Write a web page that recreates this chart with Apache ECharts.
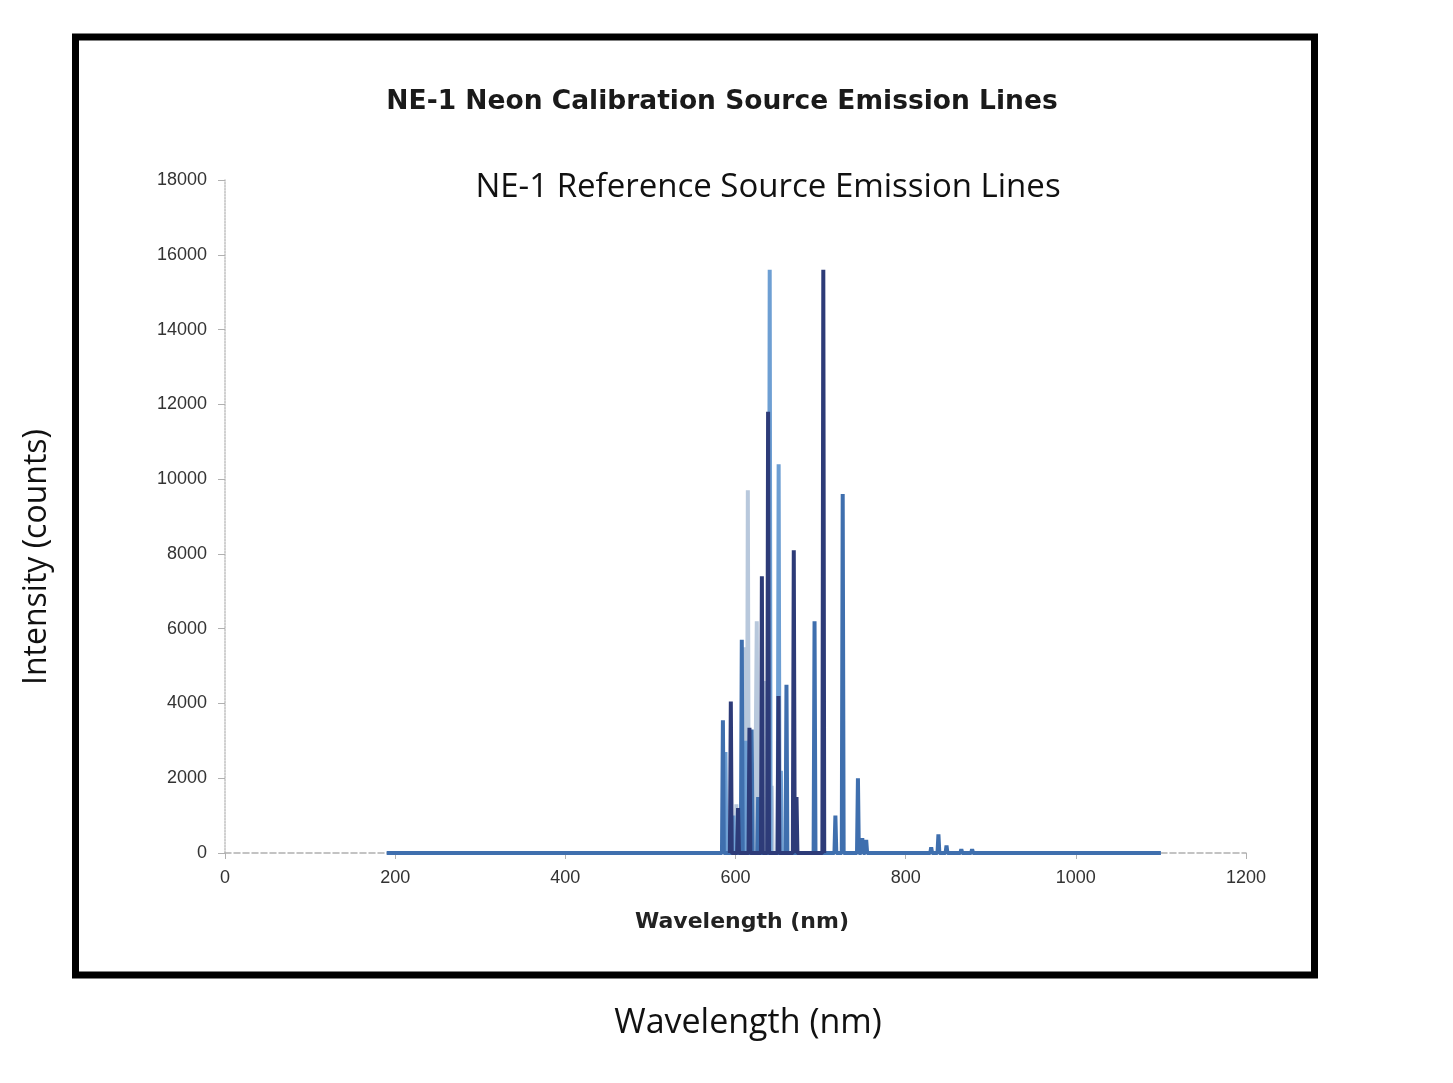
<!DOCTYPE html>
<html>
<head>
<meta charset="utf-8">
<title>NE-1 Neon Calibration Source Emission Lines</title>
<script src="https://cdn.jsdelivr.net/npm/echarts@6/dist/echarts.min.js"></script>
<style>
  html, body { margin: 0; padding: 0; background: #fff; }
  #chart { width: 1453px; height: 1083px; }
</style>
</head>
<body>
<div id="chart"></div>
<script>
// spectrum range (nm) where the trace is drawn
const traceRange = [190, 1100]

// emission lines, [wavelength nm, intensity counts], one list per overlaid trace
const paleLines = [[601, 1300], [609.6, 5500], [614.5, 9700], [621.7, 2400], [625, 6200],
  [633.4, 4600], [642.5, 1800]]
const lightLines = [[588.2, 2700], [597.6, 1000], [612, 3000], [640.2, 15600], [650.7, 10400], [653.3, 2200]]
const mediumLines = [[585.2, 3550], [607.4, 5700], [619, 3300], [626.6, 1500], [659.9, 4500],
  [692.9, 6200], [717.4, 1000], [726, 9600], [743.9, 2000], [749, 400], [753.6, 350], [830, 150],
  [838.5, 500], [848, 200], [865.4, 100], [878.1, 100]]
const navyLines = [[594.5, 4050], [603, 1200], [616.4, 3350], [631, 7400], [638.3, 11800],
  [650.5, 4200], [668.5, 8100], [671.7, 1500], [703.2, 15600]]

const xTicks = { min: 0, max: 1200, step: 200 }
const yTicks = { min: 0, max: 18000, step: 2000 }

// turn a list of lines into a spike trace that sits on a zero baseline
const spikes = (lines, withBaseline) => {
  const pts = []
  if (withBaseline) pts.push([traceRange[0], 0])
  lines.slice().sort((a, b) => a[0] - b[0]).forEach(([w, h]) => {
    pts.push([w - 1.1, 0], [w, h], [w + 1.1, 0])
  })
  if (withBaseline) pts.push([traceRange[1], 0])
  return pts
}

const chart = echarts.init(document.getElementById('chart'))

const mkSeries = (name, lines, color, withBaseline) => ({
  name,
  type: 'line',
  data: spikes(lines, withBaseline),
  showSymbol: false,
  symbol: 'none',
  lineStyle: { color, width: 4 },
  silent: true,
  animation: false
})

const option = {
  backgroundColor: '#fff',
  animation: false,
  title: [
    {
      text: 'NE-1 Neon Calibration Source Emission Lines',
      left: 717,
      top: 84,
      textAlign: 'center',
      textStyle: { fontFamily: 'DejaVu Sans', fontWeight: 'bold', fontSize: 26.5, color: '#1a1a1a' }
    },
    {
      text: 'NE-1 Reference Source Emission Lines',
      left: 763,
      top: 166,
      textAlign: 'center',
      textStyle: { fontFamily: 'Open Sans', fontWeight: 'normal', fontSize: 33, color: '#111' }
    },
    {
      text: 'Wavelength (nm)',
      left: 743,
      top: 1001,
      textAlign: 'center',
      textStyle: { fontFamily: 'Open Sans', fontWeight: 'normal', fontSize: 34, color: '#111' }
    }
  ],
  graphic: [
    {
      type: 'rect',
      shape: { x: 75.5, y: 37, width: 1239, height: 938 },
      style: { fill: 'none', stroke: '#000', lineWidth: 7 },
      silent: true
    },
    {
      type: 'text',
      x: 37,
      y: 557,
      rotation: Math.PI / 2,
      style: {
        text: 'Intensity (counts)',
        align: 'center',
        verticalAlign: 'middle',
        fontFamily: 'Open Sans',
        fontSize: 32,
        fill: '#111'
      },
      silent: true
    },
    {
      type: 'text',
      x: 742,
      y: 922,
      style: {
        text: 'Wavelength (nm)',
        align: 'center',
        verticalAlign: 'middle',
        fontFamily: 'DejaVu Sans',
        fontWeight: 'bold',
        fontSize: 22,
        fill: '#222'
      },
      silent: true
    }
  ],
  grid: { left: 225, right: 207, top: 180, bottom: 230 },
  xAxis: {
    type: 'value',
    min: xTicks.min,
    max: xTicks.max,
    interval: xTicks.step,
    axisLine: { lineStyle: { color: '#b0b0b0', width: 1.5, type: 'dashed' } },
    axisTick: { show: true, length: 6, lineStyle: { color: '#b0b0b0' } },
    axisLabel: { fontFamily: 'Liberation Sans', fontSize: 18, color: '#333', margin: 16, formatter: v => String(v) },
    splitLine: { show: false }
  },
  yAxis: {
    type: 'value',
    min: yTicks.min,
    max: yTicks.max,
    interval: yTicks.step,
    axisLine: { show: true, lineStyle: { color: '#c0c0c0', width: 1.5, type: 'dotted' } },
    axisTick: { show: true, length: 7, lineStyle: { color: '#b0b0b0' } },
    axisLabel: { fontFamily: 'Liberation Sans', fontSize: 18, color: '#333', margin: 18, formatter: v => String(v) },
    splitLine: { show: false }
  },
  series: [
    mkSeries('pale', paleLines, '#b8c8dc', false),
    mkSeries('light', lightLines, '#6e9fd3', false),
    mkSeries('medium', mediumLines, '#3f6fae', true),
    mkSeries('navy', navyLines, '#2d3b78', false)
  ]
}

chart.setOption(option)
</script>
</body>
</html>
